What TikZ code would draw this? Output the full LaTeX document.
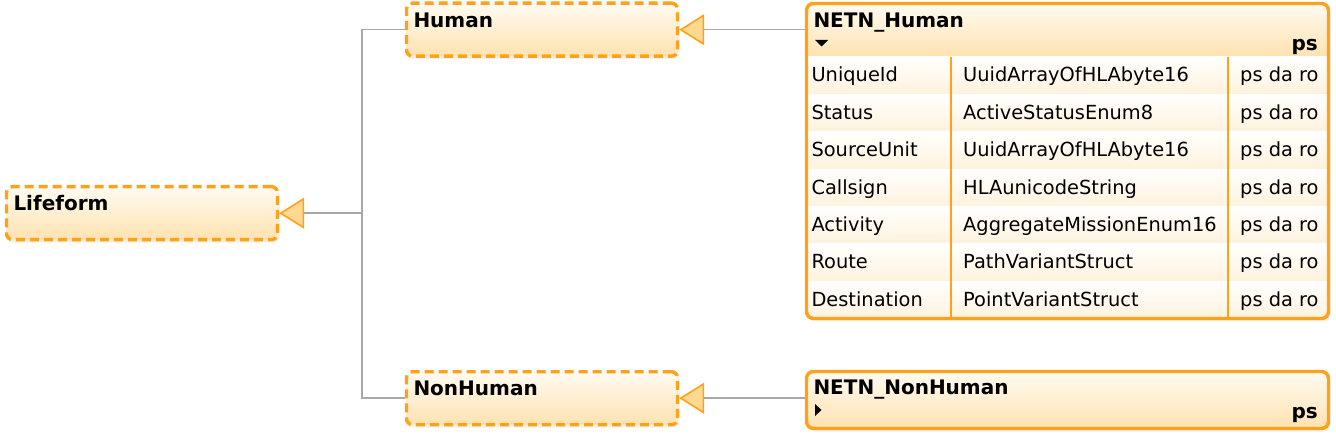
\documentclass[tikz,border=0pt]{standalone}
\usepackage{fontspec}
\setmainfont{DejaVu Sans}
\usetikzlibrary{arrows.meta, positioning, shadows, backgrounds}
\definecolor{umlOrange}{HTML}{FFA21A}
\definecolor{umlPale}{HTML}{FFFBF2}
\definecolor{umlLight}{HTML}{FFE2B0}
\definecolor{rowLight}{HTML}{FFF2DC}
\definecolor{rowLine}{HTML}{FFD38A}
\definecolor{triFill}{HTML}{FFD891}
\definecolor{linkGray}{HTML}{A8A8A8}
\tikzset{
  titleFont/.style={font=\bfseries\fontsize{20}{22}\selectfont},
  classBox/.style={rectangle, rounded corners=6pt, draw=umlOrange, line width=3.4pt,
                   dash pattern=on 9pt off 5pt, top color=umlPale, bottom color=umlLight,
                   titleFont, align=left, anchor=north west, text width=257pt,
                   inner xsep=7pt, inner ysep=0pt, text height=24pt, text depth=29pt,
                   drop shadow={opacity=0.12, shadow xshift=2pt, shadow yshift=-3pt}},
  tableFrame/.style={rectangle, rounded corners=7pt, fill=white, anchor=north west,
                     outer sep=0pt, inner sep=0pt, minimum width=522pt,
                     drop shadow={opacity=0.12, shadow xshift=2pt, shadow yshift=-3pt}},
  frameLine/.style={draw=umlOrange, line width=3.4pt, rounded corners=7pt},
  headBox/.style={rectangle, top color=umlPale, bottom color=umlLight, titleFont,
                  align=left, anchor=north west, outer sep=0pt, text width=508pt,
                  inner xsep=7pt, inner ysep=0pt, text height=24pt, text depth=29.5pt},
  rowBox/.style={rectangle, top color=white, bottom color=rowLight, align=left,
                 anchor=north west, outer sep=0pt, text width=512pt, inner xsep=5pt,
                 inner ysep=0pt, text height=25pt, text depth=12.4pt},
  cellText/.style={anchor=base west, inner sep=0pt},
  flagText/.style={titleFont, anchor=base east, inner sep=0pt},
  rowRule/.style={draw=rowLine, line width=1pt},
  colRule/.style={draw=umlOrange, line width=1.6pt},
  headRule/.style={draw=umlOrange, line width=1.4pt},
  link/.style={draw=linkGray, line width=1.6pt},
  inherit/.style={link, -{Triangle[length=25pt, width=31pt, color=umlOrange,
                  fill=triFill, line width=1.6pt]}},
}
\begin{document}
\begin{tikzpicture}[x=1pt, y=-1pt, font=\fontsize{19.4}{22}\selectfont]
  \useasboundingbox (0,0) rectangle (1336,438);

  % generalisation hierarchy
  \node[classBox] (lifeform) at (4.8,185) {Lifeform};
  \node[classBox] (human) at (404.8,1.5) {Human};
  \node[classBox] (nonHuman) at (404.8,370) {NonHuman};

  % NETN_Human with its attribute table
  \node[tableFrame, minimum height=315pt] (netnHuman) at (806.5,3.5) {};
  \coordinate (colA) at (951,0);
  \coordinate (colB) at (1228,0);
  \coordinate (typeCol) at (963,0);
  \coordinate (flagCol) at (1240,0);
  \begin{scope}
    \clip[rounded corners=7pt] (netnHuman.north west) rectangle (netnHuman.south east);
    \node[headBox] (netnHumanHead) at (806.5,3.5) {NETN\_Human};
    \draw[headRule] (netnHumanHead.south west) -- (netnHumanHead.south east);
    \foreach \nm/\ty [count=\i] in {UniqueId/UuidArrayOfHLAbyte16,
        Status/ActiveStatusEnum8, SourceUnit/UuidArrayOfHLAbyte16,
        Callsign/HLAunicodeString, Activity/AggregateMissionEnum16,
        Route/PathVariantStruct, Destination/PointVariantStruct}{
      \pgfmathsetmacro{\rowTop}{57+(\i-1)*37.4}
      \node[rowBox] (row\i) at (806.5,\rowTop) {\nm};
      \node[cellText] (type\i) at (row\i.base -| typeCol) {\ty};
      \node[cellText] (flag\i) at (row\i.base -| flagCol) {ps da ro};
      \draw[rowRule] (row\i.south west) -- (row\i.south east);
    }
    \draw[colRule] (row1.north -| colA) -- (row7.south -| colA);
    \draw[colRule] (row1.north -| colB) -- (row7.south -| colB);
  \end{scope}
  \draw[frameLine] (netnHuman.north west) rectangle (netnHuman.south east);
  \fill (815,40) -- (828,40) -- (821.5,46.5) -- cycle;
  \node[flagText] (netnHumanPs) at (1318,51) {ps};

  % NETN_NonHuman
  \node[classBox, solid, text width=508pt, text height=22.5pt, text depth=34.5pt,
        rounded corners=7pt] (netnNonHuman) at (804.8,369.8) {NETN\_NonHuman};
  \fill (815,404) -- (821.5,410) -- (815,416) -- cycle;
  \node[flagText] (netnNonHumanPs) at (1318,418) {ps};

  % connectors
  \begin{scope}[on background layer]
    \coordinate (trunkX) at (362,0);
    \coordinate (trunk) at (lifeform.east -| trunkX);
    \draw[inherit] (trunk) -- (lifeform.east);
    \draw[link] (human.west) -| (trunk);
    \draw[link] (nonHuman.west) -| (trunk);
    \draw[inherit] (human.east -| netnHuman.west) -- (human.east);
    \draw[inherit] (nonHuman.east -| netnNonHuman.west) -- (nonHuman.east);
  \end{scope}
\end{tikzpicture}
\end{document}
